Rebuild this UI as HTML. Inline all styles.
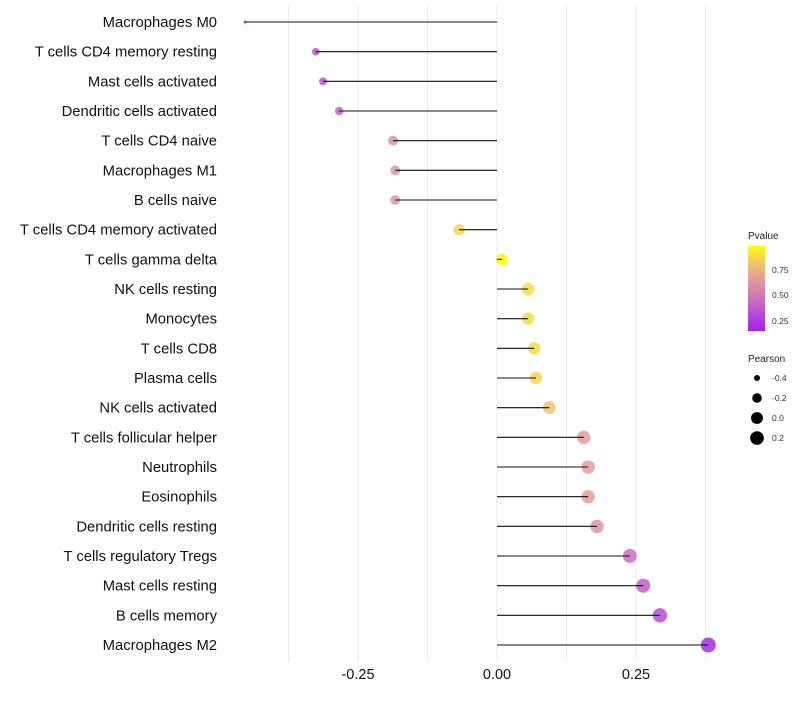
<!DOCTYPE html>
<html><head><meta charset="utf-8"><style>
body{margin:0;background:#fff;font-family:"Liberation Sans",sans-serif;}
svg text{font-family:"Liberation Sans",sans-serif;}
</style></head><body>
<svg id="chart" width="800" height="700" xmlns="http://www.w3.org/2000/svg">
<defs><linearGradient id="pg" x1="0" y1="1" x2="0" y2="0">
<stop offset="0" stop-color="#a020f0"/><stop offset="0.3" stop-color="#c65fcb"/>
<stop offset="0.6" stop-color="#e3999c"/><stop offset="0.8" stop-color="#f1c56b"/>
<stop offset="1" stop-color="#ffff00"/></linearGradient></defs>
<g id="grid"></g>
<g id="marks"></g>
<g id="ylab"></g>
<g id="xlab"></g>
<g>
<text x="748" y="239" font-size="10" fill="#222">Pvalue</text>
<rect x="748" y="246" width="17" height="85" fill="url(#pg)"/>
<text x="772" y="273" font-size="8.5" fill="#333">0.75</text>
<text x="772" y="298" font-size="8.5" fill="#333">0.50</text>
<text x="772" y="324" font-size="8.5" fill="#333">0.25</text>
</g>
<g id="sizeleg">
<text x="748" y="362" font-size="10" fill="#222">Pearson</text>
</g>
</svg>
<script>
const categories=["Macrophages M0","T cells CD4 memory resting","Mast cells activated","Dendritic cells activated","T cells CD4 naive","Macrophages M1","B cells naive","T cells CD4 memory activated","T cells gamma delta","NK cells resting","Monocytes","T cells CD8","Plasma cells","NK cells activated","T cells follicular helper","Neutrophils","Eosinophils","Dendritic cells resting","T cells regulatory  Tregs ","Mast cells resting","B cells memory","Macrophages M2"];
const pearson=[-0.453,-0.326,-0.313,-0.284,-0.187,-0.183,-0.183,-0.068,0.009,0.056,0.056,0.067,0.070,0.094,0.156,0.164,0.164,0.180,0.239,0.263,0.293,0.380];
const pvalue=[0.15,0.35,0.35,0.38,0.60,0.60,0.60,0.85,0.98,0.88,0.88,0.87,0.86,0.80,0.66,0.66,0.66,0.61,0.45,0.38,0.32,0.18];
const xTicks=[-0.25,0,0.25];
const xTickLabels=["-0.25","0.00","0.25"];
const minorTicks=[-0.375,-0.125,0.125,0.375];
const sizeLegendValues=[-0.4,-0.2,0.0,0.2];
const sizeLegendLabels=["-0.4","-0.2","0.0","0.2"];
const NS="http://www.w3.org/2000/svg";
const xS=v=>497+v*556;
const yS=i=>22+i*(623/(categories.length-1));
const rS=v=>{const t=Math.max(0,Math.min(1,(v+0.453)/0.833));return 1.5+6*Math.sqrt(t);};
function colorS(p){
 const st=[[0.14,[160,32,240]],[0.39,[198,95,203]],[0.64,[227,153,156]],[0.81,[241,197,107]],[0.98,[255,255,0]]];
 if(p<=st[0][0])return 'rgb('+st[0][1]+')';
 for(let i=1;i<st.length;i++){if(p<=st[i][0]){const t=(p-st[i-1][0])/(st[i][0]-st[i-1][0]);const c=st[i-1][1].map((a,k)=>Math.round(a+(st[i][1][k]-a)*t));return 'rgb('+c+')';}}
 return 'rgb(255,255,0)';}
function mk(t,a,p){const e=document.createElementNS(NS,t);for(const k in a)e.setAttribute(k,a[k]);p.appendChild(e);return e;}
const grid=document.getElementById('grid'),marks=document.getElementById('marks'),yl=document.getElementById('ylab'),xl=document.getElementById('xlab'),sl=document.getElementById('sizeleg');
minorTicks.concat(xTicks).forEach(v=>{const l=mk('line',{x1:xS(v),x2:xS(v),y1:5,y2:662,stroke:'#ebebeb','stroke-width':1},grid);

});
xTicks.forEach((v,i)=>{const t=mk('text',{x:xS(v),y:679,'font-size':14.5,'text-anchor':'middle',fill:'#111'},xl);t.textContent=xTickLabels[i];

});
categories.forEach((c,i)=>{
 const y=yS(i);
 const t=mk('text',{x:217,y:y+5,'font-size':14.8,'text-anchor':'end',fill:'#111'},yl);t.textContent=c;
 
 
 const ci=mk('circle',{cx:xS(pearson[i]),cy:y,r:rS(pearson[i]),fill:colorS(pvalue[i]),opacity:0.85},marks);
 
 
 const l=mk('line',{x1:xS(0),x2:xS(pearson[i]),y1:y,y2:y,stroke:'#111','stroke-width':1.1},marks);
 
 
});
sizeLegendValues.forEach((v,i)=>{const y=378+i*20;
 const c=mk('circle',{cx:757,cy:y,r:rS(v),fill:'#000'},sl);
 
 
 const t=mk('text',{x:772,y:y+3,'font-size':8.5,fill:'#333'},sl);t.textContent=sizeLegendLabels[i];
 
 });
</script>
</body></html>
